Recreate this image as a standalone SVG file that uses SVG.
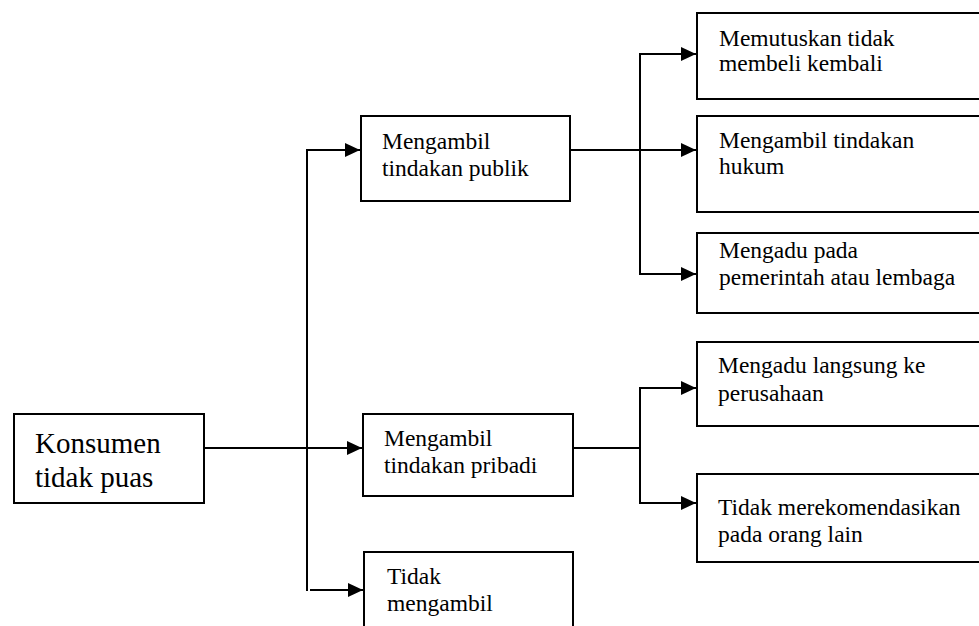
<svg xmlns="http://www.w3.org/2000/svg" width="979" height="626" viewBox="0 0 979 626">
<style>
.box{fill:#fff;stroke:#000;stroke-width:2}
.t{font-family:"Liberation Serif","Times New Roman",serif;fill:#000;font-size:23.5px}
.big{font-size:29px}
.c{fill:none;stroke:#000;stroke-width:2}
</style>
<defs>
<marker id="ah" markerUnits="userSpaceOnUse" markerWidth="16" markerHeight="14" refX="15" refY="7" orient="auto">
<path d="M0,0 L15,7 L0,14 Z" fill="#000"/>
</marker>
</defs>
<rect width="979" height="626" fill="#fff"/>
<g id="connectors">
<line class="c" x1="204" y1="448" x2="362" y2="448" marker-end="url(#ah)"/>
<line class="c" x1="307" y1="150" x2="307" y2="591"/>
<polyline class="c" points="306,150 360,150" marker-end="url(#ah)"/>
<line class="c" x1="310" y1="590" x2="363" y2="590" marker-end="url(#ah)"/>
<line class="c" x1="570" y1="150" x2="696" y2="150" marker-end="url(#ah)"/>
<polyline class="c" points="696,54 640,54 640,274 696,274" marker-end="url(#ah)"/>
<polyline class="c" points="640,54 696,54" marker-end="url(#ah)"/>
<line class="c" x1="573" y1="448" x2="640" y2="448"/>
<polyline class="c" points="696,388 640,388 640,503 696,503" marker-end="url(#ah)"/>
<polyline class="c" points="640,388 696,388" marker-end="url(#ah)"/>
</g>
<g id="konsumen">
<rect class="box" x="14" y="414" width="190" height="89"/>
<text class="t big" x="35" y="453">Konsumen</text>
<text class="t big" x="35" y="487">tidak puas</text>
</g>
<g id="publik">
<rect class="box" x="361" y="116" width="209" height="85"/>
<text class="t" x="382" y="149">Mengambil</text>
<text class="t" x="382" y="176">tindakan publik</text>
</g>
<g id="pribadi">
<rect class="box" x="363" y="414" width="210" height="82"/>
<text class="t" x="384" y="446">Mengambil</text>
<text class="t" x="384" y="473">tindakan pribadi</text>
</g>
<g id="tidak">
<rect class="box" x="364" y="552" width="209" height="90"/>
<text class="t" x="387" y="584">Tidak</text>
<text class="t" x="387" y="611">mengambil</text>
</g>
<g id="memutuskan">
<rect class="box" x="697" y="13" width="300" height="86"/>
<text class="t" x="719" y="46">Memutuskan tidak</text>
<text class="t" x="719" y="71">membeli kembali</text>
</g>
<g id="hukum">
<rect class="box" x="697" y="116" width="300" height="96"/>
<text class="t" x="719" y="148">Mengambil tindakan</text>
<text class="t" x="719" y="174">hukum</text>
</g>
<g id="pemerintah">
<rect class="box" x="697" y="233" width="300" height="80"/>
<text class="t" x="719" y="258">Mengadu pada</text>
<text class="t" x="719" y="285">pemerintah atau lembaga</text>
</g>
<g id="perusahaan">
<rect class="box" x="697" y="342" width="300" height="84"/>
<text class="t" x="718" y="373">Mengadu langsung ke</text>
<text class="t" x="718" y="401">perusahaan</text>
</g>
<g id="rekomendasi">
<rect class="box" x="697" y="474" width="300" height="88"/>
<text class="t" x="718" y="515">Tidak merekomendasikan</text>
<text class="t" x="718" y="542">pada orang lain</text>
</g>
</svg>
